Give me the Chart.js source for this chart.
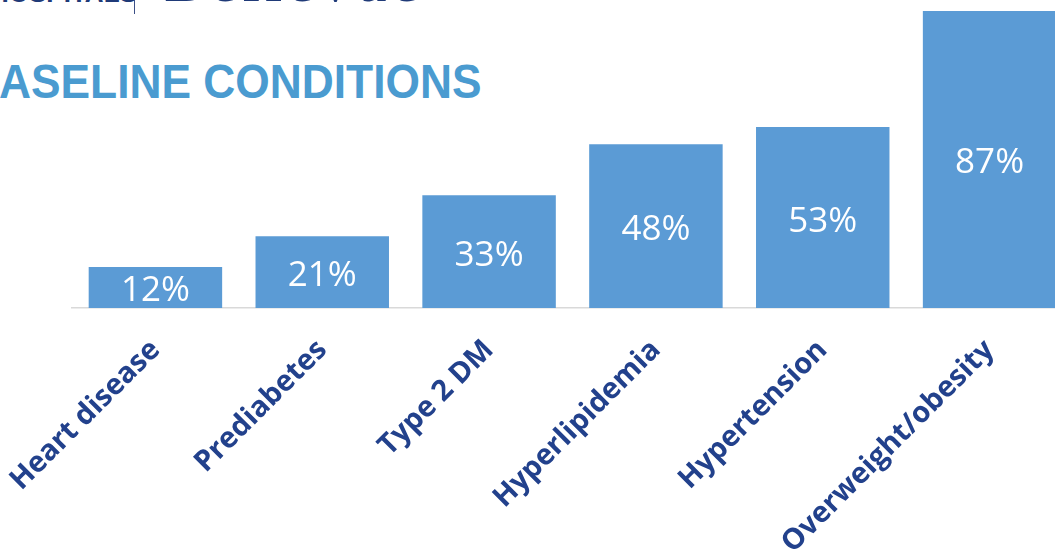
<!DOCTYPE html>
<html>
<head>
<meta charset="utf-8">
<script src="https://cdn.jsdelivr.net/npm/chart.js@4.4.1/dist/chart.umd.min.js"></script>
<style>
  html, body { margin: 0; padding: 0; background: #fff; overflow: hidden; width: 1055px; height: 552px; }
  .wrap { position: absolute; left: 0; top: 0; width: 1100px; height: 552px; }
  .logo { position: absolute; height: 44px; color: #1F3A78; white-space: nowrap; }
  .logo.sys { top: -29px; left: -10px; width: 111px; text-align: right; font: bold 26px "Liberation Sans", Arial, sans-serif; line-height: 44px; }
  .logo.site { top: -42px; left: 164px; font: 62px "Liberation Serif", "DejaVu Serif", serif; line-height: 44px; letter-spacing: 5px; }
  .rule { position: absolute; left: 134px; top: 0; width: 1px; height: 14px; background: #3B4F86; }
  h1 { position: absolute; left: 0; top: 54px; margin: 0; font: bold 48px "Liberation Sans", Arial, sans-serif; color: #4A9BD0;
       white-space: nowrap; transform-origin: 0 0; transform: translateX(-33px) scaleX(0.923); }
</style>
</head>
<body>
<div class="logo sys">HOSPITALS</div>
<div class="rule"></div>
<div class="logo site">Bellevue</div>
<h1>BASELINE CONDITIONS</h1>
<div class="wrap"><canvas id="c" width="1100" height="552"></canvas></div>
<script>
// Baseline conditions, % of participants
const CONDITIONS = ["Heart disease", "Prediabetes", "Type 2 DM", "Hyperlipidemia", "Hypertension", "Overweight/obesity"];
const PERCENT = [12, 21, 33, 48, 53, 87];
const BAR = "#5B9BD5";
const NAVY = "#22418C";

// white value labels centred in each bar
const barLabels = {
  id: "barLabels",
  afterDatasetsDraw(chart) {
    const { ctx } = chart;
    ctx.save();
    ctx.font = '35px "Open Sans", "Noto Sans", sans-serif';
    ctx.fillStyle = "#fff";
    ctx.textAlign = "center";
    ctx.textBaseline = "middle";
    chart.getDatasetMeta(0).data.forEach((bar, i) => {
      const { x, y } = bar.getCenterPoint();
      ctx.fillText(`${PERCENT[i]}%`, x, y + 4);
    });
    ctx.restore();
  },
};

new Chart(document.getElementById("c"), {
  type: "bar",
  data: {
    labels: CONDITIONS,
    datasets: [{ data: PERCENT, backgroundColor: BAR, borderWidth: 0, barPercentage: 0.8, categoryPercentage: 1 }],
  },
  options: {
    responsive: false,
    animation: false,
    devicePixelRatio: 1,
    layout: { padding: { left: 72, right: 27, top: 11, bottom: 0 } },
    plugins: { legend: { display: false }, tooltip: { enabled: false } },
    scales: {
      y: { display: false, min: 0, max: 87 },
      x: {
        grid: { display: false, drawTicks: false },
        border: { display: true, color: "#D9D9D9", width: 1.5 },
        ticks: {
          color: NAVY,
          font: { family: '"Open Sans", "Noto Sans", sans-serif', size: 29, weight: "bold" },
          minRotation: 45, maxRotation: 45, padding: 25, autoSkip: false,
        },
        afterFit: (s) => { s.height = 244; s.paddingLeft = 0; s.paddingRight = 0; },
      },
    },
  },
  plugins: [barLabels],
});
</script>
</body>
</html>
